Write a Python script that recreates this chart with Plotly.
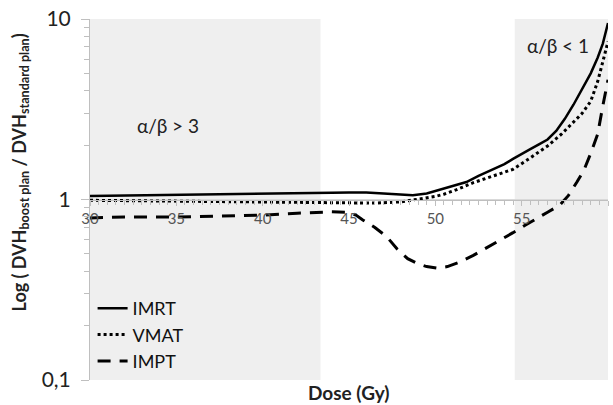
import plotly.graph_objects as go

# ---- data ----
imrt_dose = [30, 32, 34, 36, 38, 40, 42, 44, 45, 46, 47, 48, 48.7, 49.5, 50.3, 51, 51.8, 52.5,
             53.2, 54, 54.5, 55, 55.5, 56, 56.5, 57, 57.5, 58, 58.4, 59, 59.4, 59.7, 60]
imrt_val = [1.045, 1.05, 1.055, 1.06, 1.065, 1.07, 1.08, 1.09, 1.095, 1.095, 1.08, 1.06, 1.055, 1.08,
            1.14, 1.19, 1.25, 1.35, 1.45, 1.57, 1.68, 1.78, 1.9, 2.02, 2.15, 2.4, 2.8, 3.35, 3.95,
            5.0, 6.1, 7.3, 9.5]

vmat_dose = [30, 35, 40, 43, 45, 46.5, 48, 49, 50, 50.5, 51.2, 52.2, 53.2, 54.5, 55.5, 56.5, 57.3,
             58, 58.5, 59, 59.4, 59.7, 60]
vmat_val = [0.99, 0.98, 0.975, 0.97, 0.96, 0.955, 0.97, 1.0, 1.04, 1.07, 1.13, 1.24, 1.33, 1.47, 1.7,
            1.98, 2.3, 2.7, 3.0, 3.5, 4.5, 5.8, 7.5]

impt_dose = [30, 32, 35, 38, 40, 42, 44, 44.9, 45.4, 45.8, 46.5, 47.2, 47.8, 48.4, 49, 49.5, 50.1,
             50.7, 51.4, 52.2, 53, 53.8, 54.5, 55.2, 55.7, 56.5, 57.2, 57.7, 58.2, 58.6, 59, 59.4,
             59.7, 60]
impt_val = [0.79, 0.8, 0.8, 0.81, 0.82, 0.84, 0.855, 0.85, 0.82, 0.77, 0.7, 0.62, 0.53, 0.47, 0.44,
            0.425, 0.417, 0.425, 0.45, 0.49, 0.54, 0.6, 0.655, 0.72, 0.77, 0.85, 0.93, 1.05, 1.25,
            1.45, 1.8, 2.3, 3.3, 4.6]

shade_ranges = [(30, 43.35), (54.6, 60)]
x_ticks = [30, 35, 40, 45, 50, 55, 60]
y_ticks = [0.1, 1, 10]
y_ticktext = ["0,1", "1", "10"]
y_minor = [0.2, 0.3, 0.4, 0.5, 0.6, 0.7, 0.8, 0.9, 2, 3, 4, 5, 6, 7, 8, 9]

FONT = "Lato, 'Noto Sans', sans-serif"

fig = go.Figure()
fig.add_trace(go.Scatter(x=imrt_dose, y=imrt_val, name="IMRT", mode="lines",
                         line=dict(color="black", width=2.5)))
fig.add_trace(go.Scatter(x=vmat_dose, y=vmat_val, name="VMAT", mode="lines",
                         line=dict(color="black", width=3, dash="3px,3px")))
fig.add_trace(go.Scatter(x=impt_dose, y=impt_val, name="IMPT", mode="lines",
                         line=dict(color="black", width=3, dash="13px,9px")))

for x0, x1 in shade_ranges:
    fig.add_shape(type="rect", xref="x", yref="y domain", x0=x0, x1=x1, y0=0, y1=1,
                  fillcolor="#efefef", line=dict(width=0), layer="below")

fig.update_layout(
    width=613, height=405,
    margin=dict(l=90, r=5, t=15, b=25),
    paper_bgcolor="white", plot_bgcolor="white",
    font=dict(family=FONT, color="#222"),
    showlegend=True,
    legend=dict(x=0.005, y=0.0, xanchor="left", yanchor="bottom",
                bgcolor="rgba(0,0,0,0)", font=dict(size=18, color="#111"),
                tracegroupgap=0),
    xaxis=dict(range=[30, 60], anchor="free", position=0.5,
               tickvals=x_ticks, ticks="outside", ticklen=5, tickcolor="#bfbfbf",
               showline=True, linecolor="#bfbfbf", linewidth=1,
               showgrid=False, zeroline=False,
               tickfont=dict(size=15, color="#555"),
               minor=dict(dtick=0.5, ticks="outside", ticklen=4, tickcolor="#bfbfbf")),
    yaxis=dict(type="log", range=[-1, 1], domain=[0, 1],
               tickvals=y_ticks, ticktext=y_ticktext,
               ticks="outside", ticklen=8, tickcolor="#bfbfbf",
               ticklabelstandoff=6,
               showline=True, linecolor="#bfbfbf", linewidth=1,
               showgrid=True, gridcolor="#d9d9d9", gridwidth=1, zeroline=False,
               tickfont=dict(size=21, color="#222"),
               minor=dict(tickvals=y_minor, ticks="outside", ticklen=5,
                          tickcolor="#bfbfbf", showgrid=False)),
)

fig.add_annotation(text="<b>Dose (Gy)</b>", xref="paper", yref="paper", x=0.5, y=-0.0356,
                   xanchor="center", yanchor="middle", showarrow=False,
                   font=dict(size=19, color="#222"))
fig.add_annotation(text="<b>Log ( DVH<sub>boost plan</sub> / DVH<sub>standard plan</sub>)</b>",
                   xref="paper", yref="paper", x=-0.135, y=0.575, textangle=-90,
                   xanchor="center", yanchor="middle", showarrow=False,
                   font=dict(size=18, color="#222"))
fig.add_annotation(text="α/β > 3", xref="paper", yref="paper", x=0.087, y=0.704,
                   xanchor="left", yanchor="middle", showarrow=False,
                   font=dict(size=19, color="#222"))
fig.add_annotation(text="α/β < 1", xref="paper", yref="paper", x=0.84, y=0.926,
                   xanchor="left", yanchor="middle", showarrow=False,
                   font=dict(size=19, color="#222"))

fig.write_html("out.html", config={"displayModeBar": False},
               post_script="document.body.style.margin='0px';")
